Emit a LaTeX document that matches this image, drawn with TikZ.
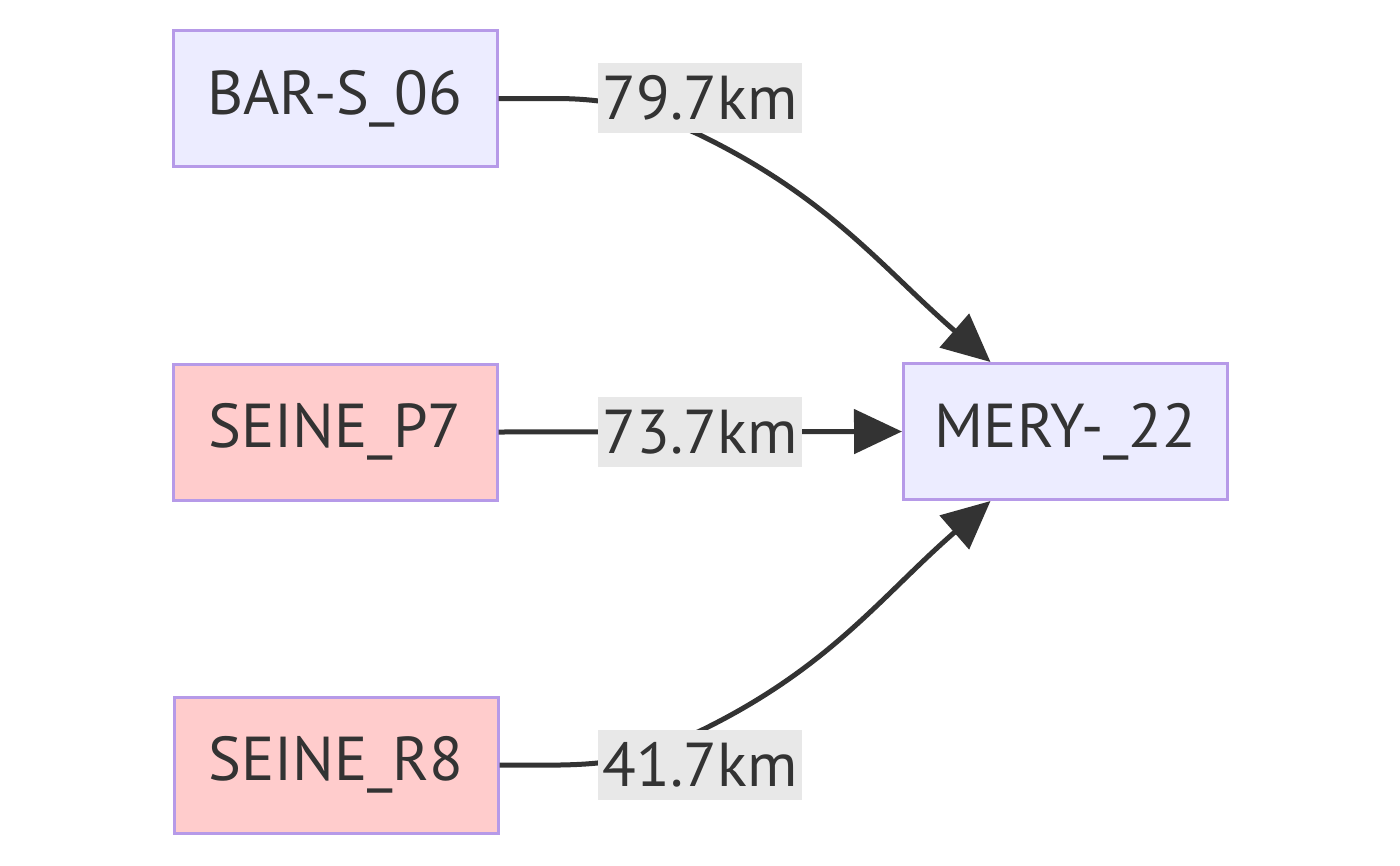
\documentclass[tikz,border=0pt]{standalone}
\usepackage{fontspec}
\setmainfont{PT Sans}
\usetikzlibrary{arrows.meta}
\definecolor{nfill}{HTML}{ECECFF}
\definecolor{rfill}{HTML}{FFCCCC}
\definecolor{nstroke}{HTML}{B69AE8}
\definecolor{txt}{HTML}{333333}
\definecolor{lbg}{HTML}{E8E8E8}
\begin{document}
\begin{tikzpicture}[x=1pt,y=-1pt,
  box/.style={draw=nstroke,line width=3pt,fill=nfill,minimum width=324pt,minimum height=136pt,inner sep=0pt,text=txt,font=\fontsize{62}{70}\selectfont},
  redbox/.style={box,fill=rfill},
  lab/.style={fill=lbg,minimum width=204pt,minimum height=70pt,inner sep=0pt,text=txt,font=\fontsize{62}{70}\selectfont},
  edge/.style={draw=txt,line width=5pt,-{Triangle[length=48pt,width=44pt]}}]
\useasboundingbox (0,0) rectangle (1400,865);
\node[box] (b) at (335,98.5) {BAR-S\_06};
\node[redbox] (p) at (335,432) {SEINE\_P7};
\node[redbox] (r) at (336,765) {SEINE\_R8};
\node[box] (m) at (1065.5,431.5) {MERY-\_22};
\coordinate (mt) at ([xshift=-75pt]m.north);
\coordinate (mb) at ([xshift=-75pt]m.south);
\coordinate (c1) at (700,135);
\coordinate (c3) at (700,731);
\draw[edge] (b.east) -- (560,98.5) .. controls (620,99.5) and (645,110) .. (c1) to[out=-26,in=139] (mt);
\draw[edge] (p.east) -- (m.west);
\draw[edge] (r.east) -- (560,765) .. controls (620,764) and (645,756) .. (c3) to[out=26,in=-139] (mb);
\node[lab] (l1) at (700,98) {79.7km};
\node[lab] (l2) at (700,432) {73.7km};
\node[lab] (l3) at (700,765) {41.7km};
\end{tikzpicture}
\end{document}
